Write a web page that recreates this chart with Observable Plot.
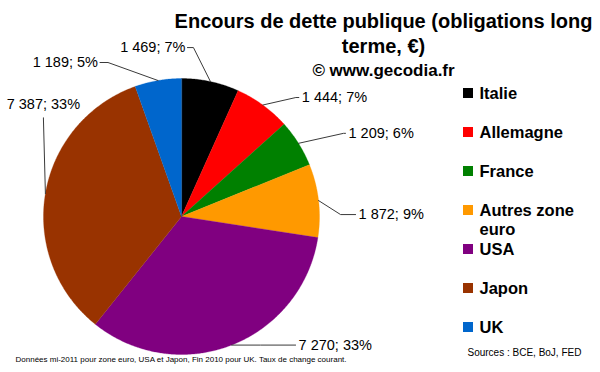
<!DOCTYPE html>
<html>
<head>
<meta charset="utf-8">
<script src="https://cdn.jsdelivr.net/npm/d3@7"></script>
<script src="https://cdn.jsdelivr.net/npm/@observablehq/plot@0.6"></script>
<style>
  html, body { margin: 0; padding: 0; background: #fff; }
  #chart svg { display: block; }
</style>
</head>
<body>
<div id="chart"></div>
<script>
// ---- Data ----
const names = ["Italie", "Allemagne", "France", "Autres zone euro", "USA", "Japon", "UK"];
const values = [1469, 1444, 1209, 1872, 7270, 7387, 1189];
const percents = [7, 7, 6, 9, 33, 33, 5];
const colors = ["#000000", "#ff0000", "#008000", "#ff9900", "#800080", "#993300", "#0066cc"];

const titleLines = ["Encours de dette publique (obligations long", "terme, €)"];
const subtitle = "© www.gecodia.fr";
const footnote = "Données mi-2011 pour zone euro, USA et Japon, Fin 2010 pour UK. Taux de change courant.";
const sources = "Sources : BCE, BoJ, FED";

// ---- Layout (pixel geometry, styles) ----
const W = 600, H = 372;
const cx = 181, cy = 216, R = 138;
const FONT = "'Liberation Sans', Arial, Helvetica, sans-serif";
// leader-line layout relative to each slice's edge point
const labelLayout = [
  {elbow: [-17, -34], tick: -6, anchor: "end"},
  {elbow: [33, -7.5], tick: 3, anchor: "start"},
  {elbow: [45, -10], tick: 2, anchor: "start"},
  {elbow: [22, 14], tick: 15, anchor: "start"},
  {elbow: [29, 0], tick: 35, anchor: "start"},
  {elbow: [-2, -76], tick: 0, anchor: "middle"},
  {elbow: [-50, -18], tick: -8, anchor: "end"}
];
const titleX = 383, titleY0 = 21, titleStep = 25, subtitleY = 70;

const fmt = d3.formatLocale({decimal: ",", thousands: "\u00a0", grouping: [3], currency: ["", ""]}).format(",");

// ---- Pie geometry ----
const arcs = d3.pie().sort(null).value(d => d.value)(names.map((n, i) => ({name: n, value: values[i], i})));
const px = a => cx + R * Math.sin(a);
const py = a => cy - R * Math.cos(a);

const slicePts = [];
for (const a of arcs) {
  const n = Math.max(2, Math.ceil((a.endAngle - a.startAngle) / (Math.PI / 360)));
  slicePts.push({name: a.data.name, x: cx, y: cy});
  for (let k = 0; k <= n; k++) {
    const t = a.startAngle + (a.endAngle - a.startAngle) * k / n;
    slicePts.push({name: a.data.name, x: px(t), y: py(t)});
  }
}

const leaderPts = [];
const labels = [];
arcs.forEach((a, i) => {
  const mid = (a.startAngle + a.endAngle) / 2;
  const ex = px(mid), ey = py(mid);
  const L = labelLayout[i];
  const bx = ex + L.elbow[0], by = ey + L.elbow[1];
  const tx = bx + L.tick;
  leaderPts.push({k: i, x: ex, y: ey}, {k: i, x: bx, y: by}, {k: i, x: tx, y: by});
  const text = `${fmt(values[i]).replace(/\u00a0/g, " ")}; ${percents[i]}%`;
  if (L.anchor === "start") labels.push({text, x: tx + 3, y: by, anchor: "start"});
  else if (L.anchor === "end") labels.push({text, x: tx - 2, y: by, anchor: "end"});
  else labels.push({text, x: bx, y: by - 13, anchor: "middle"});
});

const legendY = i => 93 + i * 39;
const legend = names.map((n, i) => ({name: n, i}));

const textMark = (anchor) => Plot.text(labels.filter(d => d.anchor === anchor), {
  x: "x", y: "y", text: "text", textAnchor: anchor, fontSize: 14.5, fill: "#000"
});

const chart = Plot.plot({
  width: W, height: H,
  margin: 0,
  style: {fontFamily: FONT, background: "#fff"},
  x: {domain: [0, W], range: [0, W], axis: null},
  y: {domain: [0, H], range: [0, H], axis: null},
  color: {domain: names, range: colors},
  marks: [
    Plot.line(slicePts, {x: "x", y: "y", z: "name", fill: "name", stroke: "name", strokeWidth: 0.3, curve: "linear-closed"}),
    Plot.line(leaderPts, {x: "x", y: "y", z: "k", stroke: "#3a3a3a", strokeWidth: 1}),
    textMark("start"), textMark("end"), textMark("middle"),
    // Title block
    Plot.text(titleLines, {x: () => titleX, y: (d, i) => titleY0 + i * titleStep, text: d => d, fontSize: 20, fontWeight: "bold", fill: "#000"}),
    Plot.text([subtitle], {x: () => titleX, y: () => subtitleY, text: d => d, fontSize: 17, fontWeight: "bold", fill: "#000"}),
    // Legend
    Plot.rect(legend, {x1: () => 463, x2: () => 473, y1: d => legendY(d.i) - 5, y2: d => legendY(d.i) + 5, fill: "name"}),
    Plot.text(legend, {x: () => 479, y: d => legendY(d.i), text: "name", textAnchor: "start", lineAnchor: "top", dy: -9, lineWidth: 7, lineHeight: 1.2, fontSize: 16.5, fontWeight: "bold", fill: "#000"}),
    // Footnote and sources
    Plot.text([footnote], {frameAnchor: "bottom-left", dx: 15, dy: -11, text: d => d, textAnchor: "start", fontSize: 8, fill: "#000"}),
    Plot.text([sources], {frameAnchor: "bottom-left", dx: 467, dy: -17, text: d => d, textAnchor: "start", fontSize: 10, fill: "#000"})
  ]
});
document.getElementById("chart").appendChild(chart);
</script>
</body>
</html>
